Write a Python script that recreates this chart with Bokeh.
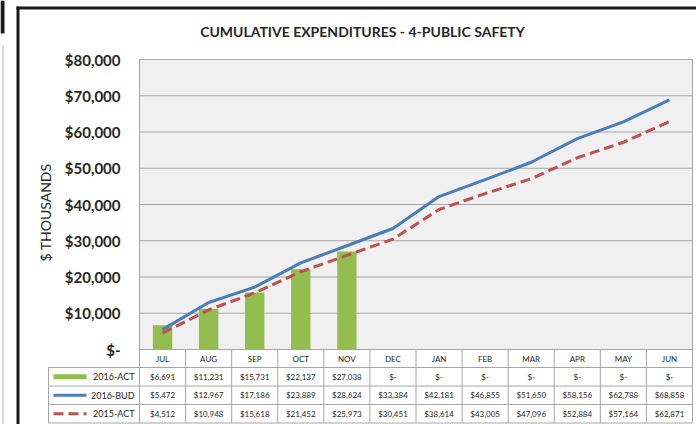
from bokeh.plotting import figure
from bokeh.models import Range1d, FixedTicker, NumeralTickFormatter
from bokeh.core.properties import value
from bokeh.embed import file_html
from bokeh.resources import INLINE
import numpy as np

# ---------------- data ----------------
months = ["JUL", "AUG", "SEP", "OCT", "NOV", "DEC", "JAN", "FEB", "MAR", "APR", "MAY", "JUN"]
act_2016 = [6691, 11231, 15731, 22137, 27038, None, None, None, None, None, None, None]
bud_2016 = [5472, 12967, 17186, 23889, 28624, 33384, 42181, 46855, 51650, 58156, 62788, 68858]
act_2015 = [4512, 10948, 15618, 21452, 25973, 30451, 38614, 43005, 47096, 52884, 57164, 62871]
series_names = ["2016-ACT", "2016-BUD", "2015-ACT"]
y_ticks = [0, 10000, 20000, 30000, 40000, 50000, 60000, 70000, 80000]
title_text = "CUMULATIVE EXPENDITURES - 4-PUBLIC SAFETY"
y_label = "$ THOUSANDS"

# ---------------- style / layout ----------------
FONT = "Lato"
GREEN = "#93bd4f"
BLUE = "#4a7ebb"
RED = "#c0504d"
GRID = "#a6a6a6"
PLOT_BG = "#f0f0f0"
TXT = "#262626"
FRAME = "#1a1a1a"

W, H = 696, 424
n = len(months)
xs = np.arange(n) + 0.5
edges = np.arange(n + 1)
ymax = y_ticks[-1]

PL, PR, PT, PB = 139, 692, 59, 349       # plot area in page pixels
cw = (PR - PL) / n
ypp = ymax / (PB - PT)


def px2x(px):
    return (px - PL) / cw


def py2y(py):
    return (PB - py) * ypp


def fmt(v):
    return "$-" if v is None else "${:,}".format(v)


p = figure(width=W, height=H, x_range=Range1d(px2x(0), px2x(W)), y_range=Range1d(py2y(H), py2y(0)),
           output_backend="svg", toolbar_location=None,
           min_border_left=0, min_border_right=0, min_border_top=0, min_border_bottom=0,
           background_fill_color="white", border_fill_color="white", outline_line_color=None)
p.xaxis.visible = False
p.grid.visible = False

# y axis pinned at the left edge of the plot area
ax = p.yaxis[0]
ax.fixed_location = 0
ax.ticker = FixedTicker(ticks=y_ticks)
ax.formatter = NumeralTickFormatter(format="$0,0")
ax.major_label_overrides = {0: "$-"}
ax.axis_line_color = None
ax.major_tick_line_color = None
ax.minor_tick_line_color = None
ax.major_tick_out = 0
ax.major_label_standoff = 19
ax.major_label_text_font = FONT
ax.major_label_text_font_style = "bold"
ax.major_label_text_font_size = "15px"
ax.major_label_text_color = TXT
ax.axis_label = y_label
ax.axis_label_text_font = FONT
ax.axis_label_text_font_style = "normal"
ax.axis_label_text_font_size = "14px"
ax.axis_label_text_color = TXT
ax.axis_label_standoff = 8

# plot area + horizontal grid lines
p.quad(left=[0], right=[n], bottom=[0], top=[ymax], fill_color=PLOT_BG, line_color=GRID, line_width=1)
p.segment(x0=[0] * len(y_ticks), x1=[n] * len(y_ticks), y0=y_ticks, y1=y_ticks, line_color=GRID, line_width=1)

# series
p.vbar(x=[x for x, v in zip(xs, act_2016) if v is not None],
       top=[v for v in act_2016 if v is not None],
       width=0.42, fill_color=GREEN, line_color=None)
p.line(xs, bud_2016, line_color=BLUE, line_width=3)
p.line(xs, act_2015, line_color=RED, line_width=3, line_dash="10 5")

# data table
HDR_B = 367
row_b = [HDR_B, 385.5, 404, 422.5]
leg_l = px2x(48)
p.segment(x0=edges, x1=edges, y0=[py2y(row_b[-1])] * (n + 1), y1=[0] * (n + 1), line_color=GRID, line_width=1)
p.segment(x0=[leg_l], x1=[leg_l], y0=[py2y(row_b[-1])], y1=[py2y(HDR_B)], line_color=GRID, line_width=1)
p.segment(x0=[leg_l] * len(row_b), x1=[n] * len(row_b), y0=[py2y(b) for b in row_b],
          y1=[py2y(b) for b in row_b], line_color=GRID, line_width=1)
p.text(x=xs, y=[py2y((PB + HDR_B) / 2)] * n, text=months, text_align="center", text_baseline="middle",
       text_font=value(FONT), text_font_size="8px", text_color=TXT)

all_series = [act_2016, bud_2016, act_2015]
row_c = [py2y((row_b[r] + row_b[r + 1]) / 2) for r in range(len(series_names))]
for r, vals in enumerate(all_series):
    p.text(x=xs, y=[row_c[r]] * n, text=[fmt(v) for v in vals], text_align="center", text_baseline="middle",
           text_font=value(FONT), text_font_size="8px", text_color=TXT)

p.text(x=[px2x(134)] * len(series_names), y=row_c, text=series_names, text_align="right", text_baseline="middle",
       text_font=value(FONT), text_font_size="9px", text_color=TXT)
kx0, kx1 = px2x(53), px2x(86)
p.segment(x0=[kx0], x1=[kx1], y0=[row_c[0]], y1=[row_c[0]], line_color=GREEN, line_width=5)
p.segment(x0=[kx0], x1=[kx1], y0=[row_c[1]], y1=[row_c[1]], line_color=BLUE, line_width=3)
p.segment(x0=[kx0], x1=[kx1], y0=[row_c[2]], y1=[row_c[2]], line_color=RED, line_width=3, line_dash="10 5")

# title
p.text(x=[px2x(362)], y=[py2y(31)], text=[title_text], text_align="center", text_baseline="middle",
       text_font=value(FONT), text_font_style="bold", text_font_size="14px", text_color=TXT)

# outer frame decoration
p.quad(left=[px2x(0), px2x(2), px2x(16), px2x(16)], right=[px2x(4), px2x(3), px2x(19), px2x(W + 5)],
       top=[py2y(0), py2y(45), py2y(6), py2y(6)], bottom=[py2y(33), py2y(H + 5), py2y(H + 5), py2y(9)],
       fill_color=[FRAME, "#b0b0b0", FRAME, FRAME], line_color=None)

open("out.html", "w").write(file_html(p, INLINE))
